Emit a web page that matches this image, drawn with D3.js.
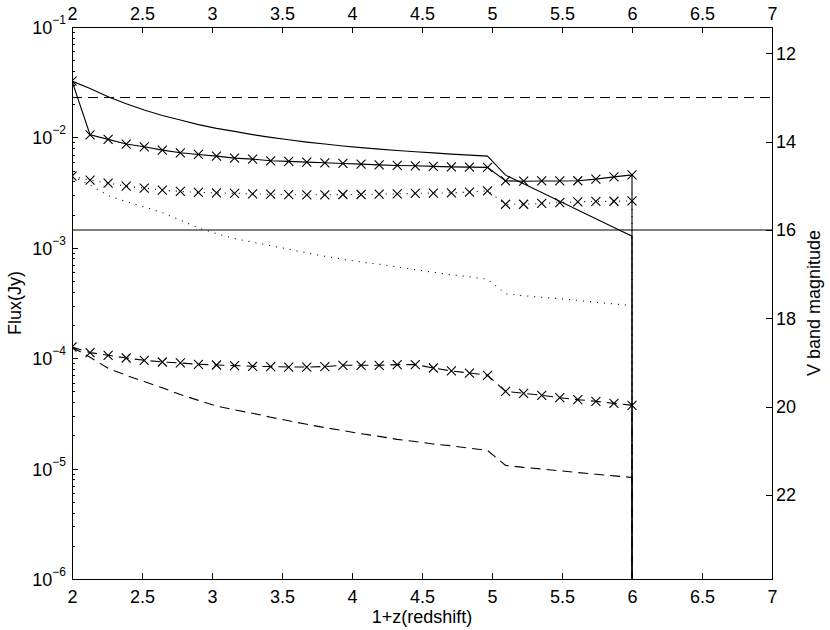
<!DOCTYPE html>
<meta charset="utf-8">

<script src="https://d3js.org/d3.v7.min.js"></script>

<style type="text/css">

body { margin: 0; background: #fff; }
svg { font-family: "Liberation Sans", Arial, Helvetica, sans-serif; }
.axis path, .axis line { stroke: #000; shape-rendering: crispEdges; }
.axis text { font-size: 18px; fill: #000; }
.curve { fill: none; stroke: #000; stroke-width: 1.1; }
.marker { fill: none; stroke: #000; stroke-width: 1.1; }

</style>

<body>
</body>

<script>

// data: 1+z on x, flux in Jy on y.
// last entry of every series is the drop to (almost) zero at 1+z = 6
var redshift = [2.000, 2.129, 2.258, 2.387, 2.516, 2.645, 2.774, 2.903, 3.032, 3.161,
                3.290, 3.419, 3.548, 3.677, 3.806, 3.935, 4.065, 4.194, 4.323, 4.452,
                4.581, 4.710, 4.839, 4.968, 5.097, 5.226, 5.355, 5.484, 5.613, 5.742,
                5.871, 6.000, 6.000];

var fluxSolidX = [3.24e-2, 1.056e-2, 9.59e-3, 8.70e-3, 8.22e-3, 7.67e-3, 7.25e-3, 7.01e-3, 6.77e-3, 6.49e-3,
                  6.36e-3, 6.14e-3, 6.06e-3, 5.97e-3, 5.89e-3, 5.81e-3, 5.73e-3, 5.64e-3, 5.57e-3, 5.53e-3,
                  5.46e-3, 5.41e-3, 5.38e-3, 5.35e-3, 4.04e-3, 4.01e-3, 4.03e-3, 4.03e-3, 4.05e-3, 4.19e-3,
                  4.39e-3, 4.58e-3, 1e-12];

var fluxSolid = [3.24e-2, 2.77e-2, 2.34e-2, 2.02e-2, 1.77e-2, 1.58e-2, 1.435e-2, 1.306e-2, 1.207e-2, 1.133e-2,
                 1.06e-2, 1.00e-2, 9.51e-3, 9.07e-3, 8.70e-3, 8.37e-3, 8.08e-3, 7.83e-3, 7.62e-3, 7.42e-3,
                 7.24e-3, 7.06e-3, 6.91e-3, 6.77e-3, 4.55e-3, 3.80e-3, 3.17e-3, 2.64e-3, 2.20e-3, 1.83e-3,
                 1.53e-3, 1.274e-3, 1e-12];

var fluxDottedX = [4.46e-3, 4.10e-3, 3.85e-3, 3.62e-3, 3.47e-3, 3.33e-3, 3.24e-3, 3.17e-3, 3.15e-3, 3.11e-3,
                   3.08e-3, 3.06e-3, 3.03e-3, 3.02e-3, 3.02e-3, 3.04e-3, 3.04e-3, 3.06e-3, 3.08e-3, 3.11e-3,
                   3.13e-3, 3.15e-3, 3.19e-3, 3.28e-3, 2.48e-3, 2.48e-3, 2.52e-3, 2.57e-3, 2.61e-3, 2.63e-3,
                   2.64e-3, 2.66e-3, 1e-12];

var fluxDotted = [4.46e-3, 3.69e-3, 2.97e-3, 2.62e-3, 2.34e-3, 2.08e-3, 1.78e-3, 1.515e-3, 1.342e-3, 1.212e-3,
                  1.124e-3, 1.045e-3, 9.71e-4, 8.97e-4, 8.39e-4, 7.88e-4, 7.43e-4, 7.10e-4, 6.71e-4, 6.34e-4,
                  6.01e-4, 5.69e-4, 5.47e-4, 5.19e-4, 3.84e-4, 3.68e-4, 3.56e-4, 3.46e-4, 3.34e-4, 3.21e-4,
                  3.10e-4, 3.00e-4, 1e-12];

var fluxDashedX = [1.263e-4, 1.124e-4, 1.062e-4, 1.004e-4, 9.57e-5, 9.24e-5, 9.05e-5, 8.81e-5, 8.68e-5, 8.57e-5,
                   8.45e-5, 8.40e-5, 8.32e-5, 8.32e-5, 8.40e-5, 8.62e-5, 8.62e-5, 8.62e-5, 8.75e-5, 8.75e-5,
                   8.15e-5, 7.66e-5, 7.34e-5, 7.00e-5, 5.01e-5, 4.81e-5, 4.61e-5, 4.39e-5, 4.21e-5, 4.07e-5,
                   3.90e-5, 3.74e-5, 1e-12];

var fluxDashed = [1.263e-4, 1.019e-4, 8.10e-5, 7.00e-5, 6.14e-5, 5.39e-5, 4.68e-5, 4.15e-5, 3.69e-5, 3.41e-5,
                  3.17e-5, 2.92e-5, 2.71e-5, 2.52e-5, 2.35e-5, 2.21e-5, 2.07e-5, 1.96e-5, 1.84e-5, 1.76e-5,
                  1.67e-5, 1.61e-5, 1.53e-5, 1.46e-5, 1.07e-5, 1.025e-5, 9.92e-6, 9.55e-6, 9.20e-6, 8.90e-6,
                  8.59e-6, 8.32e-6, 1e-12];

// horizontal limits in V magnitude (dashed, solid)
var limitMagDashed = 13;
var limitMagSolid = 16;

// tick values
var xTicks = [2, 2.5, 3, 3.5, 4, 4.5, 5, 5.5, 6, 6.5, 7];
var fluxTicks = [1e-6, 1e-5, 1e-4, 1e-3, 1e-2, 1e-1];
var fluxExponents = [-6, -5, -4, -3, -2, -1];
var magTicks = [12, 14, 16, 18, 20, 22];

// V band zero point (Jy)
var zeroPoint = 3640;

//Define Margins and svg here:

var margin = {top: 27, right: 58, bottom: 51, left: 72};

var width = 830 - margin.left - margin.right,
    height = 630 - margin.top - margin.bottom;

var svg = d3.select("body").append("svg")
    .attr("width", width + margin.left + margin.right)
    .attr("height", height + margin.top + margin.bottom)
  .append("g")
    .attr("transform", `translate(${margin.left}, ${margin.top})`);

svg.append("clipPath").attr("id", "plot-clip")
  .append("rect")
    .attr("width", width)
    .attr("height", height);

// scales
var xScale = d3.scaleLinear()
  .domain([2, 7])
  .range([0, width]);

var yScale = d3.scaleLog()
  .domain([1e-6, 1e-1])
  .range([height, 0]);

function toMag(f) { return -2.5 * Math.log10(f / zeroPoint); }

var magScale = d3.scaleLinear()
  .domain([toMag(1e-1), toMag(1e-6)])
  .range([0, height]);

// minor log ticks
var minorTicks = [];
fluxTicks.slice(0, -1).forEach(function(t) {
  for (var m = 2; m <= 9; m++) minorTicks.push(t * m);
});

// axes (ticks pointing inward)
var xAxisBottom = d3.axisBottom(xScale)
  .tickValues(xTicks)
  .tickFormat(d => d)
  .tickSizeInner(-6)
  .tickSizeOuter(0)
  .tickPadding(11);

var xAxisTop = d3.axisTop(xScale)
  .tickValues(xTicks)
  .tickFormat(d => d)
  .tickSizeInner(-6)
  .tickSizeOuter(0)
  .tickPadding(7);

var yAxis = d3.axisLeft(yScale)
  .tickValues(fluxTicks)
  .tickFormat("")
  .tickSizeInner(-6)
  .tickSizeOuter(0);

var yMinor = d3.axisLeft(yScale)
  .tickValues(minorTicks)
  .tickFormat("")
  .tickSizeInner(-3)
  .tickSizeOuter(0);

var magAxis = d3.axisRight(magScale)
  .tickValues(magTicks)
  .tickSizeInner(-6)
  .tickSizeOuter(0)
  .tickPadding(4);

svg.append("g")
  .attr("class", "x axis")
  .attr("transform", `translate(0,${height})`)
  .call(xAxisBottom);

svg.append("g")
  .attr("class", "x axis")
  .call(xAxisTop);

svg.append("g")
  .attr("class", "y axis minor")
  .call(yMinor);

var yAxisGroup = svg.append("g")
  .attr("class", "y axis")
  .call(yAxis);

svg.append("g")
  .attr("class", "y axis")
  .attr("transform", `translate(${width},0)`)
  .call(magAxis);

// 10^n labels on the flux axis
var powLabels = yAxisGroup.selectAll(".pow-label")
  .data(fluxTicks)
  .enter().append("text")
    .attr("class", "pow-label")
    .attr("x", -6)
    .attr("y", d => yScale(d) + 7)
    .attr("text-anchor", "end");

powLabels.append("tspan")
  .text("10");

powLabels.append("tspan")
  .attr("dy", -10)
  .style("font-size", "12px")
  .text((d, i) => "\u2212" + Math.abs(fluxExponents[i]));

// reference magnitude limits
svg.append("line")
  .attr("x1", 0).attr("x2", width)
  .attr("y1", magScale(limitMagDashed)).attr("y2", magScale(limitMagDashed))
  .attr("stroke", "#000")
  .attr("stroke-dasharray", "10,6");

svg.append("line")
  .attr("x1", 0).attr("x2", width)
  .attr("y1", magScale(limitMagSolid)).attr("y2", magScale(limitMagSolid))
  .attr("stroke", "#000")
  .attr("stroke-width", 1.1);

// curves
var series = [
  {values: fluxSolid, dash: null, marks: false},
  {values: fluxSolidX, dash: null, marks: true},
  {values: fluxDotted, dash: "1,6", marks: false},
  {values: fluxDottedX, dash: "1,6", marks: true},
  {values: fluxDashed, dash: "10,6", marks: false},
  {values: fluxDashedX, dash: "10,6", marks: true}
];

var line = d3.line()
  .x(d => xScale(d[0]))
  .y(d => yScale(d[1]));

var plot = svg.append("g").attr("clip-path", "url(#plot-clip)");

series.forEach(function(s) {
  var pts = redshift.map((z, i) => [z, s.values[i]]);

  plot.append("path")
    .datum(pts)
    .attr("class", "curve")
    .attr("stroke-dasharray", s.dash)
    .attr("d", line);

  if (s.marks) {
    var r = 4.5;
    plot.selectAll(null)
      .data(pts.filter(d => d[1] >= 1e-6))
      .enter().append("path")
        .attr("class", "marker")
        .attr("d", function(d) {
          var cx = xScale(d[0]), cy = yScale(d[1]);
          return `M${cx - r},${cy - r}L${cx + r},${cy + r}M${cx - r},${cy + r}L${cx + r},${cy - r}`;
        });
  }
});

// axis titles
svg.append("text")
  .attr("x", width / 2)
  .attr("y", height + 44)
  .attr("text-anchor", "middle")
  .style("font-size", "18px")
  .text("1+z(redshift)");

svg.append("text")
  .attr("transform", `translate(${-margin.left + 21},${height / 2}) rotate(-90)`)
  .attr("text-anchor", "middle")
  .style("font-size", "18px")
  .text("Flux(Jy)");

svg.append("text")
  .attr("transform", `translate(${width + 48},${height / 2}) rotate(-90)`)
  .attr("text-anchor", "middle")
  .style("font-size", "18px")
  .text("V band magnitude");

</script>
